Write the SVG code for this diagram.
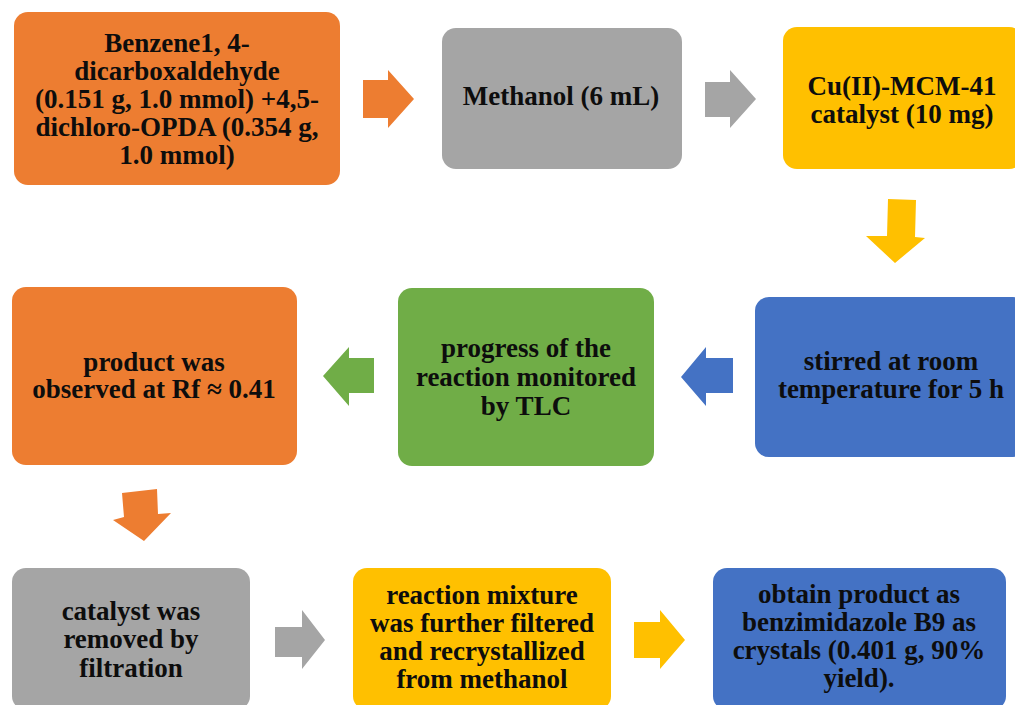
<svg xmlns="http://www.w3.org/2000/svg" width="1015" height="705" viewBox="0 0 1015 705">
<style>
.box{rx:14px;ry:14px}
.t{font-weight:bold;font-size:27px;fill:#0d0d0d;text-anchor:middle}
.or{fill:#ED7D31}.gr{fill:#A5A5A5}.ye{fill:#FFC000}.bl{fill:#4472C4}.gn{fill:#70AD47}
</style>
<rect width="1015" height="705" fill="#ffffff"/>
<g id="connectors">
<polygon class="or" points="363,80 388,80 388,70 414,99 388,128 388,118 363,118"/>
<polygon class="gr" points="705,82 730,82 730,70 756,99 730,128 730,117 705,117"/>
<polygon class="ye" points="888,199 916,200 915,237 925,238 895,263 866,236 887,236"/>
<polygon class="bl" points="733,358 706,358 706,347 681,377 706,406 706,393 733,393"/>
<polygon class="gn" points="374,358 349,358 349,347 323,376 349,406 349,393 374,393"/>
<polygon class="or" points="122,493 157,489 158,514 171,513 144,541 113,520 124,517"/>
<polygon class="gr" points="275,627 302,627 302,610 325,640 302,669 302,657 275,657"/>
<polygon class="ye" points="634,622 660,622 660,610 685,640 660,669 660,658 634,658"/>
</g>
<g font-family="'Liberation Serif', 'DejaVu Serif', serif">
<g id="n1">
<rect class="box or" x="14" y="12" width="326" height="173"/>
<text class="t" x="177" y="52">Benzene1, 4-</text>
<text class="t" x="177" y="80">dicarboxaldehyde</text>
<text class="t" x="177" y="108">(0.151 g, 1.0 mmol) +4,5-</text>
<text class="t" x="177" y="136">dichloro-OPDA (0.354 g,</text>
<text class="t" x="177" y="164">1.0 mmol)</text>
</g>
<g id="n2">
<rect class="box gr" x="442" y="28" width="240" height="141"/>
<text class="t" x="561" y="105">Methanol (6 mL)</text>
</g>
<g id="n3">
<rect class="box ye" x="783" y="27" width="240" height="142"/>
<text class="t" x="902" y="95">Cu(II)-MCM-41</text>
<text class="t" x="902" y="123">catalyst (10 mg)</text>
</g>
<g id="n4">
<rect class="box bl" x="755" y="297" width="272" height="160"/>
<text class="t" x="891" y="370">stirred at room</text>
<text class="t" x="891" y="398">temperature for 5 h</text>
</g>
<g id="n5">
<rect class="box gn" x="398" y="288" width="256" height="178"/>
<text class="t" x="526" y="357">progress of the</text>
<text class="t" x="526" y="386">reaction monitored</text>
<text class="t" x="526" y="415">by TLC</text>
</g>
<g id="n6">
<rect class="box or" x="12" y="287" width="285" height="178"/>
<text class="t" x="154" y="371">product was</text>
<text class="t" x="154" y="398">observed at Rf ≈ 0.41</text>
</g>
<g id="n7">
<rect class="box gr" x="12" y="568" width="238" height="142"/>
<text class="t" x="131" y="620">catalyst was</text>
<text class="t" x="131" y="648">removed by</text>
<text class="t" x="131" y="677">filtration</text>
</g>
<g id="n8">
<rect class="box ye" x="353" y="568" width="258" height="142"/>
<text class="t" x="482" y="604">reaction mixture</text>
<text class="t" x="482" y="632">was further filtered</text>
<text class="t" x="482" y="660">and recrystallized</text>
<text class="t" x="482" y="688">from methanol</text>
</g>
<g id="n9">
<rect class="box bl" x="713" y="568" width="293" height="142"/>
<text class="t" x="859" y="603">obtain product as</text>
<text class="t" x="859" y="631">benzimidazole B9 as</text>
<text class="t" x="859" y="659">crystals (0.401 g, 90%</text>
<text class="t" x="859" y="687">yield).</text>
</g>
</g>
</svg>
